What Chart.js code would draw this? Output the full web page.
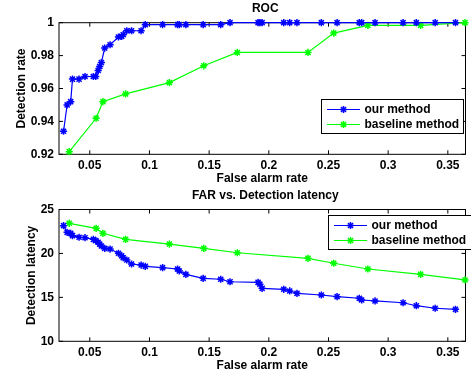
<!DOCTYPE html>
<html>
<head>
<meta charset="utf-8">
<title>ROC / FAR vs. Detection latency</title>
<script src="https://cdn.jsdelivr.net/npm/chart.js@4.4.1/dist/chart.umd.min.js"></script>
<style>
  body { margin: 0; background: #fff; }
  canvas { display: block; }
</style>
</head>
<body>
<canvas id="rocChart" width="471" height="187"></canvas>
<canvas id="latencyChart" width="471" height="188"></canvas>
<script>
// our method: false alarm rate, detection rate, detection latency
const ourFar = [0.028, 0.031, 0.034, 0.0355, 0.041, 0.046, 0.053, 0.055, 0.057, 0.0583, 0.0597,
  0.0625, 0.067, 0.074, 0.0767, 0.078, 0.081, 0.085, 0.093, 0.0965, 0.111, 0.1235, 0.125, 0.1305,
  0.145, 0.1597, 0.1675, 0.191, 0.1925, 0.1944, 0.2125, 0.2175, 0.2236, 0.244, 0.2572, 0.2758,
  0.2778, 0.289, 0.3125, 0.3236, 0.3394, 0.3564];
const ourDetection = [0.934, 0.950, 0.952, 0.9657, 0.9657, 0.9673, 0.9673, 0.9673, 0.971, 0.9734, 0.9758,
  0.9846, 0.9866, 0.9913, 0.9917, 0.9927, 0.9951, 0.9951, 0.9951, 0.9988, 0.9988, 0.9988, 0.9988, 0.9988,
  0.9988, 0.9988, 1, 1, 1, 1, 1, 1, 1, 1, 1, 1,
  1, 1, 1, 1, 1, 1];
const ourLatency = [23.16, 22.4, 22.29, 22.02, 21.84, 21.79, 21.6, 21.45, 21.27, 21.04, 20.85,
  20.58, 20.5, 20.02, 19.74, 19.51, 19.25, 18.8, 18.68, 18.53, 18.38, 18.23, 18.0, 17.62,
  17.17, 17.06, 16.78, 16.71, 16.49, 16.03, 15.92, 15.73, 15.46, 15.27, 15.08, 14.9,
  14.7, 14.59, 14.39, 14.05, 13.76, 13.64];

// baseline method
const baseFar = [0.0328, 0.0553, 0.061, 0.080, 0.1167, 0.1455, 0.1736, 0.2328, 0.2544, 0.283, 0.3272, 0.3644];
const baseDetection = [0.9216, 0.9419, 0.952, 0.9567, 0.9636, 0.9738, 0.9819, 0.9819, 0.9937, 0.9984, 0.9984, 1.0];
const baseLatency = [23.43, 22.86, 22.29, 21.6, 21.07, 20.58, 20.08, 19.44, 18.88, 18.23, 17.62, 16.98];

const farTicks = [0.05, 0.1, 0.15, 0.2, 0.25, 0.3, 0.35];
const detectionTicks = [0.92, 0.94, 0.96, 0.98, 1];
const latencyTicks = [10, 15, 20, 25];

const FONT = "'Liberation Sans', Arial, Helvetica, sans-serif";
Chart.defaults.font = { family: FONT, size: 12, weight: "bold" };
Chart.defaults.color = "#000";

function toPoints(xs, ys) {
  return xs.map((x, i) => ({ x: x, y: ys[i] }));
}

function drawStar(ctx, x, y, r) {
  ctx.beginPath();
  for (let k = 0; k < 4; k++) {
    const a = k * Math.PI / 4;
    ctx.moveTo(x - r * Math.cos(a), y - r * Math.sin(a));
    ctx.lineTo(x + r * Math.cos(a), y + r * Math.sin(a));
  }
  ctx.stroke();
}

// axes box with inward ticks, matlab style
const framePlugin = {
  id: "frame",
  beforeDatasetsDraw(chart) {
    const { ctx, chartArea: a, scales } = chart;
    ctx.save();
    ctx.strokeStyle = "#000";
    ctx.lineWidth = 1;
    ctx.strokeRect(a.left, a.top, a.right - a.left, a.bottom - a.top);
    ctx.beginPath();
    scales.x.ticks.forEach(t => {
      const px = scales.x.getPixelForValue(t.value);
      ctx.moveTo(px, a.bottom); ctx.lineTo(px, a.bottom - 4);
      ctx.moveTo(px, a.top); ctx.lineTo(px, a.top + 4);
    });
    scales.y.ticks.forEach(t => {
      const py = scales.y.getPixelForValue(t.value);
      ctx.moveTo(a.left, py); ctx.lineTo(a.left + 4, py);
      ctx.moveTo(a.right, py); ctx.lineTo(a.right - 4, py);
    });
    ctx.stroke();
    ctx.restore();
  }
};

const headingPlugin = {
  id: "heading",
  afterDraw(chart, args, opts) {
    const { ctx, chartArea: a } = chart;
    ctx.save();
    ctx.font = "bold 12px " + FONT;
    ctx.fillStyle = "#000";
    ctx.textAlign = "center";
    ctx.textBaseline = "middle";
    ctx.fillText(opts.text, (a.left + a.right) / 2 + 3, a.top - 14);
    ctx.restore();
  }
};

const boxLegendPlugin = {
  id: "boxLegend",
  afterDatasetsDraw(chart, args, opts) {
    const { ctx } = chart;
    const { x, y, w, h } = opts;
    ctx.save();
    ctx.fillStyle = "#fff";
    ctx.fillRect(x, y, w, h);
    ctx.strokeStyle = "#000";
    ctx.lineWidth = 1;
    ctx.strokeRect(x + 0.5, y + 0.5, w, h);
    ctx.font = "bold 12px " + FONT;
    ctx.textBaseline = "middle";
    chart.data.datasets.forEach((ds, i) => {
      const rowY = y + 10.5 + i * 15;
      ctx.strokeStyle = ds.borderColor;
      ctx.lineWidth = ds.borderWidth;
      ctx.beginPath();
      ctx.moveTo(x + 6, rowY);
      ctx.lineTo(x + 39, rowY);
      ctx.stroke();
      ctx.lineWidth = ds.pointBorderWidth;
      drawStar(ctx, x + 22.5, rowY, ds.pointRadius);
      ctx.fillStyle = "#000";
      ctx.fillText(ds.label, x + 43.5, rowY + 0.5);
    });
    ctx.restore();
  }
};

function series(label, color, points) {
  return {
    label: label,
    data: points,
    showLine: true,
    borderColor: color,
    backgroundColor: color,
    borderWidth: 1.2,
    pointStyle: "star",
    pointRadius: 3.6,
    pointBorderWidth: 1.5,
    clip: false
  };
}

function makeChart(id, opts) {
  return new Chart(document.getElementById(id), {
    type: "scatter",
    data: {
      datasets: [
        series("our method", "#0000ff", toPoints(ourFar, opts.our)),
        series("baseline method", "#00ff00", toPoints(baseFar, opts.base))
      ]
    },
    options: {
      responsive: false,
      animation: false,
      events: [],
      layout: { padding: { top: opts.padTop, right: 1, bottom: 0, left: 0 } },
      scales: {
        x: {
          type: "linear",
          min: 0.0242,
          max: 0.3648,
          afterBuildTicks: s => { s.ticks = farTicks.map(v => ({ value: v })); },
          afterFit: s => { s.height = opts.xHeight; },
          grid: { display: false, drawTicks: false },
          border: { display: false },
          ticks: { padding: 4, maxRotation: 0, callback: v => String(+v.toFixed(3)) },
          title: { display: true, text: "False alarm rate", padding: { top: 0, bottom: opts.xTitlePad } }
        },
        y: {
          type: "linear",
          min: opts.yMin,
          max: opts.yMax,
          afterBuildTicks: s => { s.ticks = opts.yTicks.map(v => ({ value: v })); },
          afterFit: s => { s.width = 59; },
          grid: { display: false, drawTicks: false },
          border: { display: false },
          ticks: { padding: 5, callback: v => String(+v.toFixed(3)) },
          title: { display: true, text: opts.yTitle, padding: { top: opts.yTitlePad, bottom: 0 } }
        }
      },
      plugins: {
        legend: { display: false },
        tooltip: { enabled: false },
        heading: { text: opts.title },
        boxLegend: opts.legendBox
      }
    },
    plugins: [framePlugin, headingPlugin, boxLegendPlugin]
  });
}

makeChart("rocChart", {
  our: ourDetection,
  base: baseDetection,
  title: "ROC",
  yTitle: "Detection rate",
  yMin: 0.92,
  yMax: 1,
  yTicks: detectionTicks,
  padTop: 22.7,
  xHeight: 32.7,
  xTitlePad: 1,
  yTitlePad: 14,
  legendBox: { x: 321, y: 99, w: 142, h: 34 }
});

makeChart("latencyChart", {
  our: ourLatency,
  base: baseLatency,
  title: "FAR vs. Detection latency",
  yTitle: "Detection latency",
  yMin: 10,
  yMax: 25,
  yTicks: latencyTicks,
  padTop: 22.5,
  xHeight: 33.7,
  xTitlePad: 2,
  yTitlePad: 24.5,
  legendBox: { x: 328, y: 28, w: 143, h: 34 }
});
</script>
</body>
</html>
